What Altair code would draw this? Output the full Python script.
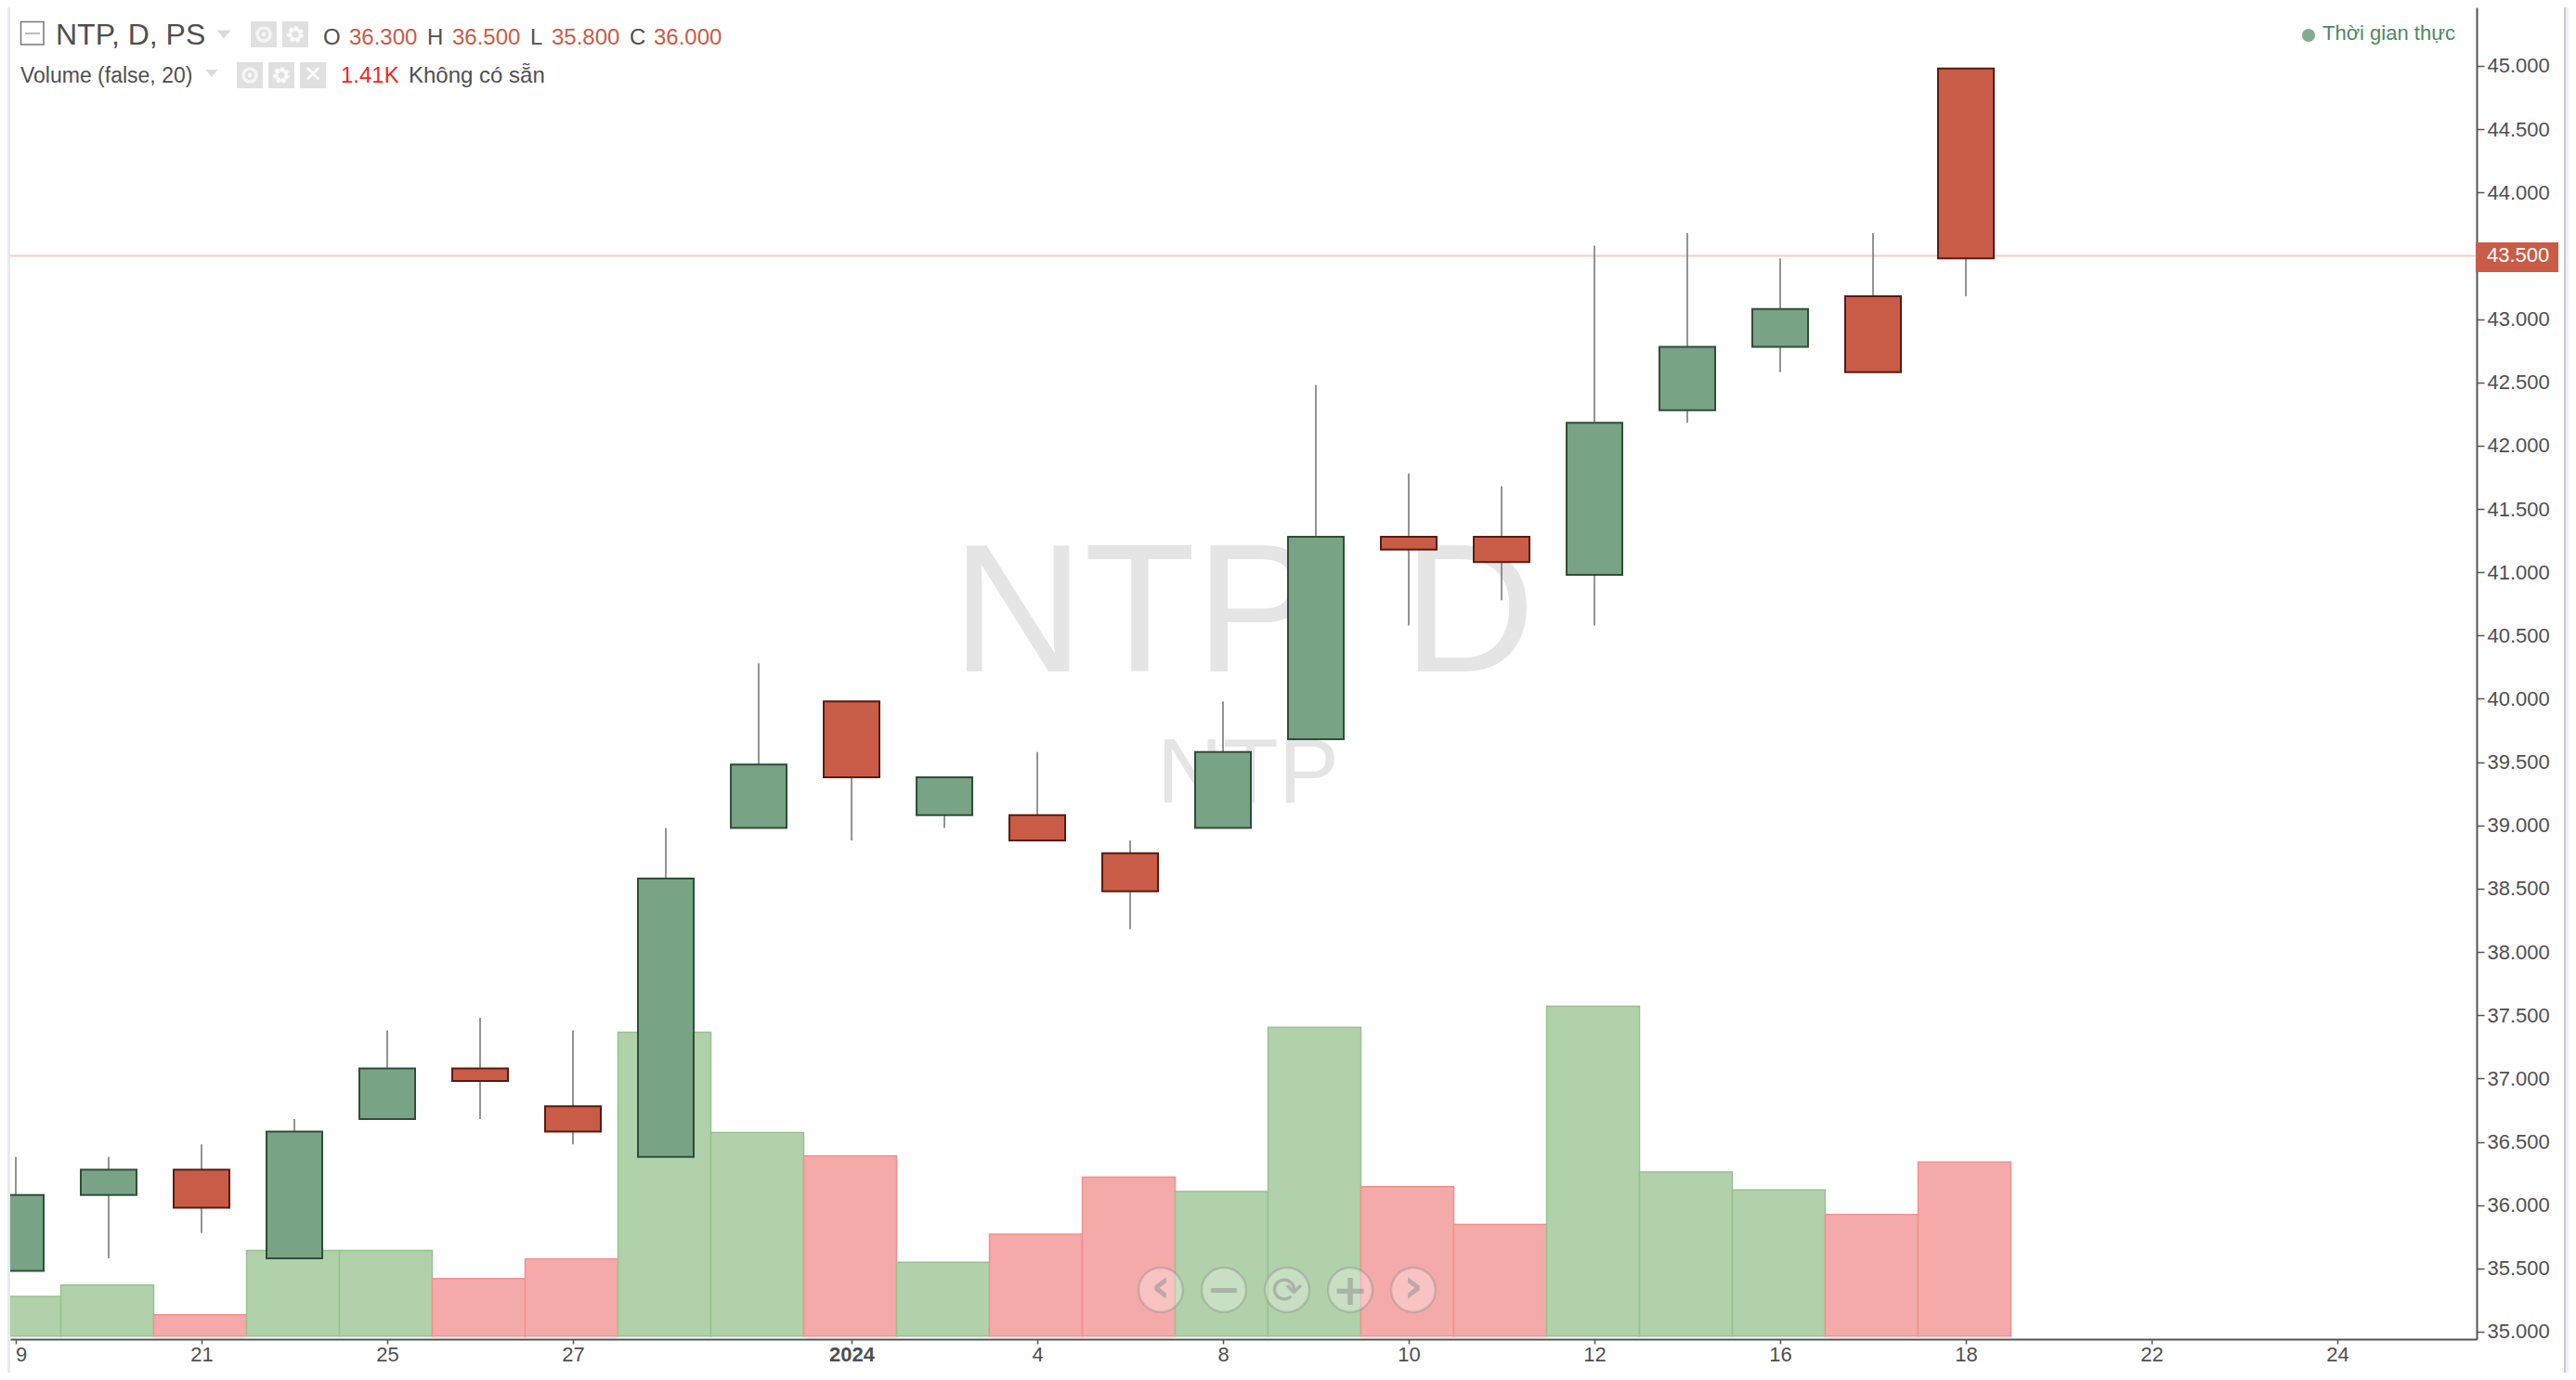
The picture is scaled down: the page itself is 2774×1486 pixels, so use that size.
import altair as alt
import pandas as pd

FONT = "Liberation Sans"

# ---- chart values ----
opens = [35.5, 36.1, 36.3, 35.6, 36.7, 37.1, 36.8, 36.4, 39.0, 40.0, 39.1, 39.1,
         38.8, 39.0, 39.7, 41.3, 41.3, 41.0, 42.3, 42.8, 43.2, 45.0]
highs = [36.4, 36.4, 36.5, 36.7, 37.4, 37.5, 37.4, 39.0, 40.3, 40.0, 39.4, 39.6,
         38.9, 40.0, 42.5, 41.8, 41.7, 43.6, 43.7, 43.5, 43.7, 45.0]
lows = [35.5, 35.6, 35.8, 35.6, 36.7, 36.7, 36.5, 36.4, 39.0, 38.9, 39.0, 38.9,
        38.2, 39.0, 39.7, 40.6, 40.8, 40.6, 42.2, 42.6, 42.6, 43.2]
closes = [36.1, 36.3, 36.0, 36.6, 37.1, 37.0, 36.6, 38.6, 39.5, 39.4, 39.4, 38.9,
          38.5, 39.6, 41.3, 41.2, 41.1, 42.2, 42.8, 43.1, 42.6, 43.5]
volumes = [2.62, 3.37, 1.41, 5.66, 5.66, 3.8, 5.1, 20.07, 13.45, 11.9, 4.88, 6.73,
           10.5, 9.55, 20.4, 9.87, 7.38, 21.8, 10.85, 9.66, 8.03, 11.5]
tick_slots = [0, 2, 4, 6, 9, 11, 13, 15, 17, 19, 21, 23, 25]
tick_labels = ["", "21", "25", "27", "2024", "4", "8", "10", "12", "16", "18", "22", "24"]
price_ticks = [35.0, 35.5, 36.0, 36.5, 37.0, 37.5, 38.0, 38.5, 39.0, 39.5, 40.0,
               40.5, 41.0, 41.5, 42.0, 42.5, 43.0, 43.5, 44.0, 44.5, 45.0]
last_price = [43.5]

n = len(opens)
df = pd.DataFrame({
    "slot": list(range(n)), "open": opens, "high": highs, "low": lows,
    "close": closes, "volume": volumes,
})
df["dir"] = ["up" if c >= o else "down" for o, c in zip(opens, closes)]
df["bar_l"] = df["slot"] - 0.515
df["bar_r"] = df["slot"] + 0.485
df["body_l"] = df["slot"] - 0.3
df["body_r"] = df["slot"] + 0.3

# ---- layout: plot area spans x 11..2667 and y 8..1442 of the page ----
OX, OY = 11, 8
W, H = 2656, 1434
x_scale = alt.Scale(domain=[-0.06, 26.5], nice=False, zero=False)
price_scale = alt.Scale(domain=[34.941, 45.462], nice=False, zero=False)
# the candles sit a hair below the axis ticks in the reference
candle_scale = alt.Scale(domain=[34.961, 45.482], nice=False, zero=False)
vol_scale = alt.Scale(domain=[-0.2, 87.78], nice=False, zero=False)
dirs = ["up", "down"]

label_expr = "{" + ",".join(f"'{s}':'{t}'" for s, t in zip(tick_slots, tick_labels)) + "}[datum.value]"
x_axis = alt.Axis(
    values=tick_slots, labelExpr=label_expr, title=None, grid=False, domainColor="#555555",
    domainWidth=2, tickColor="#555555", tickWidth=1.5, tickSize=5, labelFontSize=22,
    labelColor="#4f4f4f", labelPadding=1, labelFont=FONT, labelFlush=False, labelOverlap=False,
    labelFontWeight=alt.ExprRef("datum.value == 9 ? 'bold' : 'normal'"),
)
y_axis = alt.Axis(
    values=price_ticks, orient="right", format=".3f", title=None, grid=False,
    domainColor="#555555", domainWidth=2, tickColor="#555555", tickWidth=1.5, tickSize=8,
    labelFontSize=22, labelColor="#4f4f4f", labelPadding=3, labelFont=FONT,
    labelFlush=False, labelOverlap=False,
)


def txt(text, ax, ay, size, color, align="left", weight="normal", font=FONT, opacity=1.0, baseline="alphabetic"):
    return alt.Chart(pd.DataFrame({"t": [text]})).mark_text(
        align=align, baseline=baseline, fontSize=size, color=color, fontWeight=weight,
        font=font, opacity=opacity,
    ).encode(text="t:N", x=alt.value(ax - OX), y=alt.value(ay - OY))


def box(x0, y0, x1, y1, fill, stroke=None, sw=0.0):
    kw = {"fill": fill, "strokeWidth": sw}
    if stroke:
        kw["stroke"] = stroke
    return alt.Chart(pd.DataFrame({"a": [0]})).mark_rect(**kw).encode(
        x=alt.value(x0 - OX), x2=alt.value(x1 - OX), y=alt.value(y0 - OY), y2=alt.value(y1 - OY))


def dot(ax, ay, size, shape="circle", **kw):
    return alt.Chart(pd.DataFrame({"a": [0]})).mark_point(shape=shape, size=size, **kw).encode(
        x=alt.value(ax - OX), y=alt.value(ay - OY))


TRI = "M-1,-0.6L1,-0.6L0,0.6Z"
layers = []

# watermark
layers.append(txt("NTP", 1025, 723, 197, "#e5e5e5"))
layers.append(txt("D", 1511, 723, 197, "#e5e5e5"))
layers.append(txt("NTP", 1246, 864, 98, "#e5e5e5"))

# volume
layers.append(alt.Chart(df).mark_rect(clip=True, strokeWidth=1.5).encode(
    x=alt.X("bar_l:Q", scale=x_scale, axis=x_axis),
    x2="bar_r:Q",
    y=alt.Y("volume:Q", scale=vol_scale, axis=None),
    y2=alt.datum(0),
    fill=alt.Fill("dir:N", scale=alt.Scale(domain=dirs, range=["#b0d1aa", "#f5aaaa"]), legend=None),
    stroke=alt.Stroke("dir:N", scale=alt.Scale(domain=dirs, range=["#96c28f", "#f38f8f"]), legend=None),
))

# last price line (carries the price axis)
layers.append(alt.Chart(pd.DataFrame({"p": last_price})).mark_rule(color="#f2cfc6", strokeWidth=2).encode(
    y=alt.Y("p:Q", scale=price_scale, axis=y_axis), x=alt.value(0), x2=alt.value(W)))

# wicks
layers.append(alt.Chart(df).mark_rule(clip=True, color="#707070", strokeWidth=1.5).encode(
    x=alt.X("slot:Q", scale=x_scale, axis=x_axis),
    y=alt.Y("low:Q", scale=candle_scale, axis=None),
    y2="high:Q",
))
# bodies
layers.append(alt.Chart(df).mark_rect(clip=True, strokeWidth=2).encode(
    x=alt.X("body_l:Q", scale=x_scale, axis=x_axis),
    x2="body_r:Q",
    y=alt.Y("open:Q", scale=candle_scale, axis=None),
    y2="close:Q",
    fill=alt.Fill("dir:N", scale=alt.Scale(domain=dirs, range=["#78a384", "#c95c46"]), legend=None),
    stroke=alt.Stroke("dir:N", scale=alt.Scale(domain=dirs, range=["#2e4e38", "#5a1a10"]), legend=None),
))

# price tag on the axis
tag = pd.DataFrame({"p": last_price})
layers.append(box(2666, 261, 2755, 293, "#c95c46"))
layers.append(alt.Chart(tag).mark_text(
    align="left", baseline="middle", fontSize=22, color="white", font=FONT
).encode(
    x=alt.value(2678 - OX), y=alt.Y("p:Q", scale=price_scale, axis=None),
    text=alt.Text("p:Q", format=".3f"),
))

# the partly hidden first date label
layers.append(txt("9", 17, 1466, 22, "#4f4f4f"))

# header row 1
layers.append(box(22.5, 23.5, 47, 48, "white", "#777777", 1.5))
layers.append(box(27, 35.5, 43, 36.5, "#777777"))
layers.append(txt("NTP, D, PS", 60, 48, 32, "#4f4f4f"))
layers.append(dot(241, 37, 225, shape=TRI, fill="#cccccc", filled=True, strokeWidth=0))
layers.append(box(270, 23, 298, 51, "#e0e0e0"))
layers.append(box(304, 23, 332, 51, "#e0e0e0"))
layers.append(dot(284, 37, 200, stroke="white", strokeWidth=3.5, filled=False))
layers.append(dot(284, 37, 24, fill="white", filled=True, strokeWidth=0))
layers.append(dot(318, 37, 150, stroke="white", strokeWidth=6, filled=False, strokeDash=[3, 2.5]))
layers.append(dot(318, 37, 130, stroke="white", strokeWidth=3.5, filled=False))
for s, ax, col in [("O", 348, "#4f4f4f"), ("36.300", 376, "#c85c45"), ("H", 460, "#4f4f4f"),
                   ("36.500", 487, "#c85c45"), ("L", 571, "#4f4f4f"), ("35.800", 594, "#c85c45"),
                   ("C", 678, "#4f4f4f"), ("36.000", 704, "#c85c45")]:
    layers.append(txt(s, ax, 48, 24, col))

# header row 2
layers.append(txt("Volume (false, 20)", 22, 89, 23, "#4f4f4f"))
layers.append(dot(228, 79, 170, shape=TRI, fill="#cccccc", filled=True, strokeWidth=0))
layers.append(box(255, 67, 283, 95, "#e0e0e0"))
layers.append(box(289, 67, 317, 95, "#e0e0e0"))
layers.append(box(323, 67, 351, 95, "#e0e0e0"))
layers.append(dot(269, 81, 200, stroke="white", strokeWidth=3.5, filled=False))
layers.append(dot(269, 81, 24, fill="white", filled=True, strokeWidth=0))
layers.append(dot(303, 81, 150, stroke="white", strokeWidth=6, filled=False, strokeDash=[3, 2.5]))
layers.append(dot(303, 81, 130, stroke="white", strokeWidth=3.5, filled=False))
layers.append(txt("✕", 337, 81, 24, "white", align="center", font="DejaVu Sans", baseline="middle"))
layers.append(txt("1.41K", 367, 89, 24, "#f0281e"))
layers.append(txt("Không có sẵn", 440, 89, 24, "#4f4f4f"))

# realtime badge
layers.append(dot(2486, 38, 200, fill="#4a8a5e", filled=True, strokeWidth=0))
layers.append(txt("Thời gian thực", 2501, 43, 22, "#4a8a5e"))

# navigation buttons
for ax, glyph, fs, ay, wt in [(1250, "‹", 52, 1402, "bold"), (1318, "−", 44, 1403, "bold"),
                              (1386, "⟳", 40, 1403, "normal"), (1454, "+", 46, 1405, "bold"),
                              (1522, "›", 52, 1402, "bold")]:
    layers.append(dot(ax, 1389, 2290, fill="white", fillOpacity=0.3, stroke="#888888",
                      strokeOpacity=0.35, strokeWidth=2.5, filled=True))
    layers.append(txt(glyph, ax, ay, fs, "#8a8a8a", align="center", weight=wt,
                      font="DejaVu Sans", opacity=0.5))

# panel edges
layers.append(box(8, 8, 11, 1478, "#e9eaf0"))
layers.append(box(2761, 8, 2763, 1478, "#c9c9c9"))
layers.append(box(2763, 8, 2766, 1478, "#f0f1f6"))

chart = alt.layer(*layers).resolve_scale(
    y="independent", fill="independent", stroke="independent"
).properties(
    width=W, height=H,
    padding={"left": 3, "top": 0, "right": 99, "bottom": 36},
    autosize=alt.AutoSizeParams(type="none"),
).configure_view(stroke=None).configure_axis(labelFont=FONT)

chart.save("out.html", embed_options={"renderer": "svg", "actions": False})
